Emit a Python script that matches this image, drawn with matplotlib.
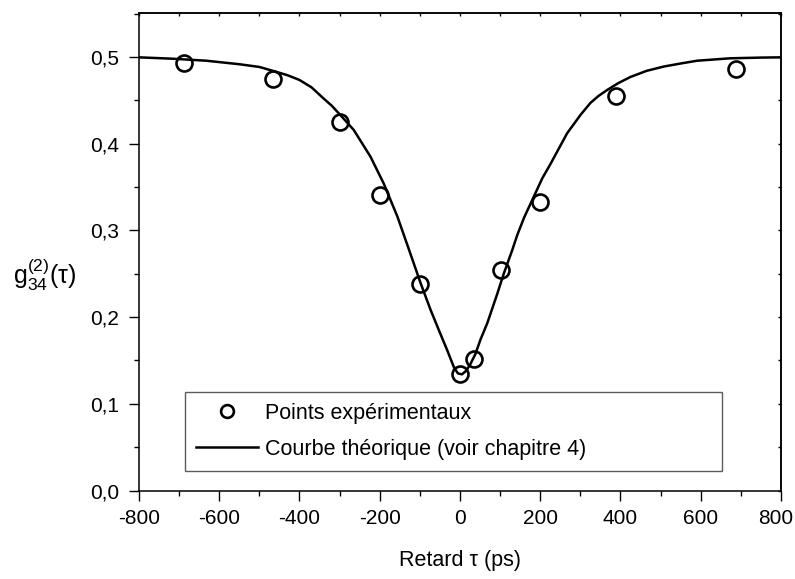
import numpy as np
import matplotlib
matplotlib.use('Agg')
import matplotlib.pyplot as plt
import matplotlib.transforms as mtransforms
from matplotlib.ticker import FuncFormatter, MultipleLocator

plt.rcParams['font.family'] = ['Liberation Sans', 'DejaVu Sans']
plt.rcParams['mathtext.fontset'] = 'custom'
plt.rcParams['mathtext.rm'] = 'Liberation Sans'
plt.rcParams['mathtext.it'] = 'Liberation Sans:italic'

# points expérimentaux
tau_exp = [-688, -465, -298, -200, -100, 0, 36, 101, 200, 389, 688]
g2_exp = [0.493, 0.475, 0.425, 0.341, 0.238, 0.134, 0.152, 0.254, 0.333, 0.455, 0.486]

# courbe théorique
tau_th = [-800, -716, -632, -549, -500, -466, -430, -400, -370, -342, -320, -300,
          -265, -223, -190, -156, -128, -98, -73, -50, -32, -15, -5, 5, 15, 25,
          38, 51, 68, 93, 109, 130, 143, 160, 184, 205, 226, 247, 267, 300, 325,
          345, 367, 395, 425, 465, 508, 550, 591, 674, 750, 800]
g2_th = [0.4996, 0.498, 0.4957, 0.4916, 0.4885, 0.484, 0.479, 0.4735, 0.465, 0.453,
         0.444, 0.434, 0.416, 0.385, 0.354, 0.316, 0.279, 0.239, 0.208, 0.182,
         0.162, 0.142, 0.135, 0.134, 0.138, 0.145, 0.157, 0.174, 0.193, 0.227,
         0.250, 0.277, 0.295, 0.315, 0.339, 0.360, 0.377, 0.395, 0.412, 0.433,
         0.447, 0.455, 0.462, 0.470, 0.477, 0.484, 0.489, 0.4925, 0.4957, 0.4985,
         0.4993, 0.4996]

xticks = [-800, -600, -400, -200, 0, 200, 400, 600, 800]

fig = plt.figure(figsize=(7.95, 5.79), dpi=100)
ax = fig.add_axes([0.1748, 0.1528, 0.8076, 0.8247])

ax.plot(tau_exp, g2_exp, 'o', ms=11.5, mfc='none', mec='black', mew=1.9,
        label='Points expérimentaux', zorder=3)
ax.plot(tau_th, g2_th, '-', color='black', lw=1.8, solid_joinstyle='round',
        label='Courbe théorique (voir chapitre 4)', zorder=2)

ax.set_xlim(-800, 800)
ax.set_ylim(0, 0.5507)
ax.set_xticks(xticks)
ax.xaxis.set_minor_locator(MultipleLocator(100))
ax.yaxis.set_major_locator(MultipleLocator(0.1))
ax.yaxis.set_minor_locator(MultipleLocator(0.05))
ax.yaxis.set_major_formatter(FuncFormatter(lambda v, p: ('%.1f' % v).replace('.', ',')))
ax.xaxis.set_major_formatter(FuncFormatter(lambda v, p: '%d' % v))
ax.tick_params(which='major', direction='out', length=7.2, width=1.0, labelsize=15)
ax.tick_params(axis='x', which='major', pad=6)
ax.tick_params(axis='y', which='major', pad=7)
ax.tick_params(which='minor', direction='out', length=3.6, width=1.0)
for s in ax.spines.values():
    s.set_linewidth(1.1)

# petites graduations internes en haut et à droite
top = ax.secondary_xaxis('top')
top.xaxis.set_major_locator(MultipleLocator(100))
top.tick_params(direction='in', length=1.8, width=1.0, labeltop=False)
top.spines['top'].set_linewidth(1.1)
right = ax.secondary_yaxis('right')
right.yaxis.set_major_locator(MultipleLocator(0.05))
right.tick_params(direction='in', length=2.5, width=1.0, labelright=False)
right.spines['right'].set_linewidth(1.1)

ax.set_xlabel('Retard τ (ps)', fontsize=15.5, labelpad=16)
fig.text(0.016, 0.525, r'g$^{(2)}_{34}$(τ)', fontsize=18, ha='left', va='center')

leg = ax.legend(loc='upper left', bbox_to_anchor=(0.0717, 0.0447, 0.8364, 0.1616),
                mode='expand', fontsize=15.5, frameon=True, fancybox=False,
                edgecolor='#333333', handlelength=2.9, handletextpad=0.3,
                borderpad=0.5, labelspacing=0.7, markerscale=0.8, borderaxespad=0)
leg.get_frame().set_linewidth(1.0)

# le dernier label "800" touche le bord : on le décale un peu à gauche
fig.canvas.draw()
lab = ax.xaxis.get_major_ticks()[-1].label1
lab.set_transform(lab.get_transform() + mtransforms.ScaledTranslation(-4 / 72, 0, fig.dpi_scale_trans))

fig.savefig('out.png', dpi=100)
